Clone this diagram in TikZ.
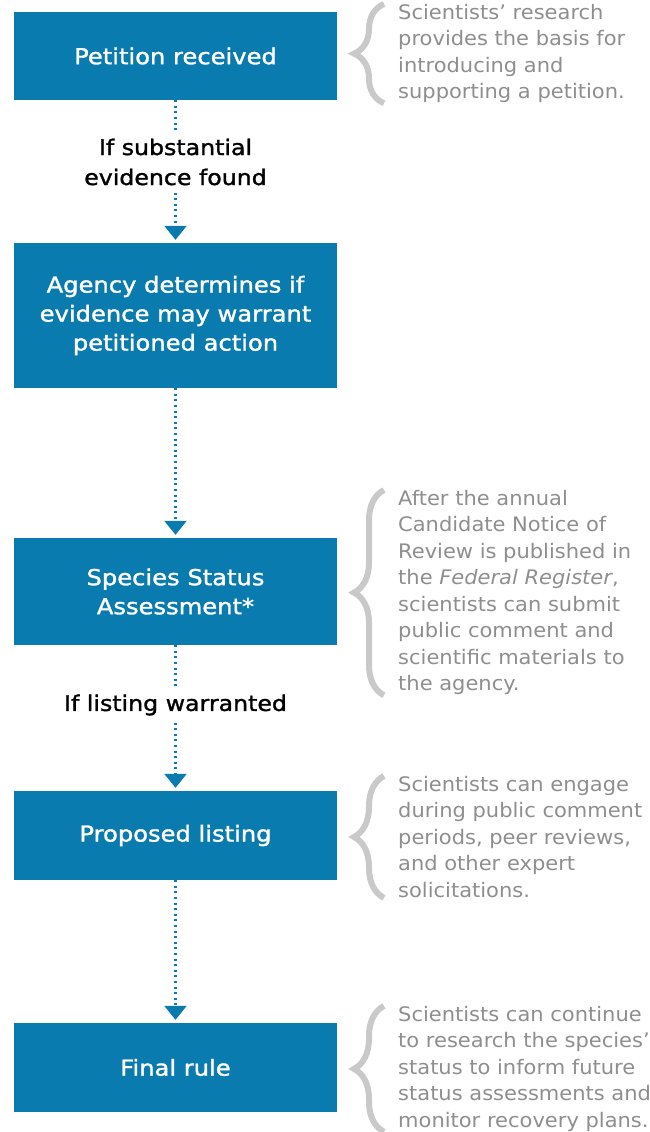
\documentclass[tikz,border=0pt]{standalone}
\usepackage{fontspec}
\setmainfont{DejaVu Sans}[FakeStretch=1.05]
\newfontfamily\medfont[FakeBold=1.4,FakeStretch=1.1]{DejaVu Sans}
\usetikzlibrary{arrows.meta,decorations.pathreplacing}

\definecolor{stageblue}{HTML}{0A7BAE}
\definecolor{notegray}{HTML}{8E8E8E}
\definecolor{bracegray}{HTML}{C9C9C9}

\tikzset{
  stage/.style={fill=stageblue, text=white, minimum width=323pt, align=center,
    inner sep=0pt, font=\medfont\fontsize{22}{29}\selectfont},
  cond/.style={align=center, inner sep=7pt, font=\medfont\fontsize{21.5}{30}\selectfont},
  note/.style={anchor=north west, align=left, inner sep=0pt, text=notegray,
    font=\fontsize{20}{26.5}\selectfont},
  notebrace/.style={draw=bracegray, line width=6pt, decorate,
    decoration={brace, amplitude=30pt}},
  flow/.style={draw=stageblue, line width=2.2pt, dash pattern=on 2pt off 3.6pt},
  flowtip/.style={flow, -{Triangle[width=22pt,length=14pt]}, shorten >=3pt}
}

\begin{document}
\begin{tikzpicture}[x=1pt,y=-1pt]
  \useasboundingbox (0,0) rectangle (649,1132);

  % Stages of the listing process
  \node[stage, minimum height=88pt] (petition) at (175.5,56) {Petition received};
  \node[stage, minimum height=145pt] (agency) at (175.5,315.5)
    {Agency determines if\\evidence may warrant\\petitioned action};
  \node[stage, minimum height=107pt] (ssa) at (175.5,591.5) {Species Status\\Assessment*};
  \node[stage, minimum height=89pt] (proposed) at (175.5,835.5) {Proposed listing};
  \node[stage, minimum height=89pt] (final) at (175.5,1067.5) {Final rule};

  % Conditions between stages
  \node[cond] (found) at (175.5,162) {If substantial\\evidence found};
  \node[cond] (warranted) at (175.5,705) {If listing warranted};

  % Connectors
  \draw[flow] (petition) -- (found);
  \draw[flowtip] (found) -- (agency);
  \draw[flowtip] (agency) -- (ssa);
  \draw[flow] (ssa) -- (warranted);
  \draw[flowtip] (warranted) -- (proposed);
  \draw[flowtip] (proposed) -- (final);

  % Notes on what scientists can do
  \node[note] (basis) at (398,4)
    {Scientists’ research\\provides the basis for\\introducing and\\supporting a petition.};
  \node[note] (review) at (398,490)
    {After the annual\\Candidate Notice of\\Review is published in\\the \textit{Federal Register},\\scientists can submit\\public comment and\\scientific materials to\\the agency.};
  \node[note] (engage) at (398,776)
    {Scientists can engage\\during public comment\\periods, peer reviews,\\and other expert\\solicitations.};
  \node[note] (monitor) at (398,1006)
    {Scientists can continue\\to research the species’\\status to inform future\\status assessments and\\monitor recovery plans.};

  \foreach \n in {basis,review,engage,monitor}
    \draw[notebrace] ([xshift=-14pt]\n.south west) -- ([xshift=-14pt]\n.north west);
\end{tikzpicture}
\end{document}
